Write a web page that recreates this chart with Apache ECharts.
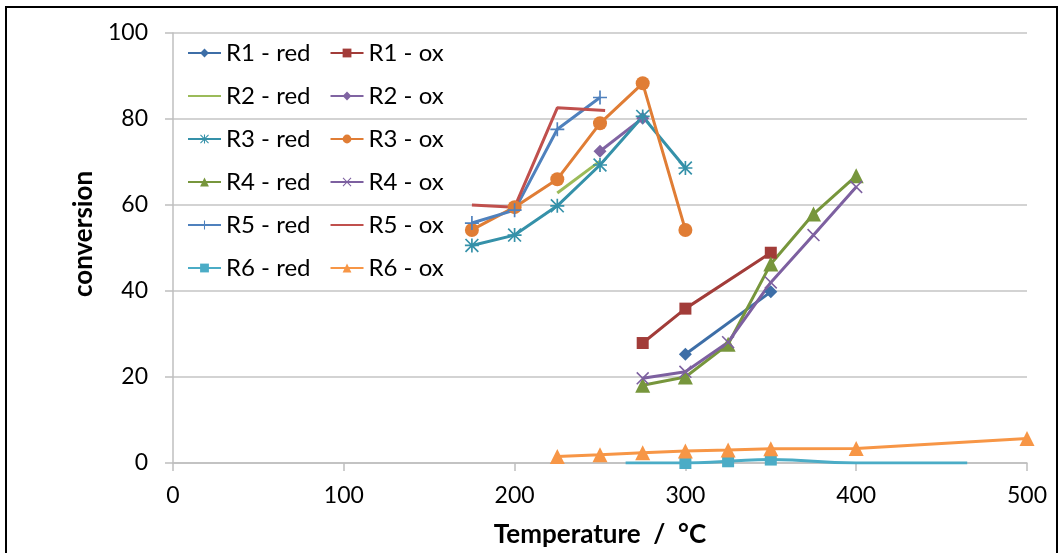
<!DOCTYPE html>
<html>
<head>
<meta charset="utf-8">
<script src="https://cdn.jsdelivr.net/npm/echarts@6/dist/echarts.min.js"></script>
<style>
  html, body { margin: 0; padding: 0; background: #fff; }
  #chart { width: 1061px; height: 553px; }
</style>
</head>
<body>
<div id="chart"></div>
<script>
// [temperature, conversion]
const r1Red = [[300, 25.3], [350, 39.8]];
const r1Ox = [[275, 27.9], [300, 35.9], [350, 48.9]];
const r2Red = [[225, 62.8], [250, 70.2]];
const r2Ox = [[250, 72.5], [275, 80.2]];
const r3Red = [[175, 50.6], [200, 53.0], [225, 59.8], [250, 69.3], [275, 80.6], [300, 68.6]];
const r3Ox = [[175, 54.2], [200, 59.5], [225, 66.0], [250, 79.0], [275, 88.3], [300, 54.2]];
const r4Red = [[275, 18.1], [300, 20.0], [325, 27.6], [350, 46.3], [375, 57.9], [400, 66.8]];
const r4Ox = [[275, 19.7], [300, 21.2], [325, 28.1], [350, 42.0], [375, 53.0], [400, 64.2]];
const r5Red = [[175, 55.8], [200, 58.8], [225, 77.6], [250, 85.0]];
const r5Ox = [[175, 60.0], [200, 59.5], [225, 82.6], [253, 82.0]];
const r6Red = [[265, 0], [300, 0], [325, 0.4], [350, 0.8], [400, 0], [465, 0]];
const r6RedMarked = [false, true, true, true, false, false];
const r6Ox = [[225, 1.5], [250, 1.9], [275, 2.4], [300, 2.8], [325, 3.0], [350, 3.3], [400, 3.4], [500, 5.7]];

const FONT = 'Lato';

// stroke-like markers as filled paths
const plusPath = 'path://M-1.2,-10L1.2,-10L1.2,10L-1.2,10ZM-10,-1.2L10,-1.2L10,1.2L-10,1.2Z';
const crossPath = 'path://M-10,-8.3L-8.3,-10L10,8.3L8.3,10ZM8.3,-10L10,-8.3L-8.3,10L-10,8.3Z';
const starPath = plusPath + 'M-10,-8.3L-8.3,-10L10,8.3L8.3,10ZM8.3,-10L10,-8.3L-8.3,10L-10,8.3Z';

function mk(name, data, color, symbol, size, extra) {
  const noMarker = symbol === 'none';
  return Object.assign({
    name: name,
    type: 'line',
    data: data,
    symbol: noMarker ? 'circle' : symbol,
    symbolSize: size,
    showSymbol: !noMarker,
    lineStyle: { color: color, width: 3 },
    itemStyle: { color: color, opacity: noMarker ? 0 : 1 },
    emphasis: { disabled: true }
  }, extra || {});
}

const series = [
  mk('R1 - red', r1Red, '#3d6ea7', 'diamond', 13),
  mk('R1 - ox', r1Ox, '#a23c39', 'rect', 12),
  mk('R2 - red', r2Red, '#9bbb59', 'none', 0),
  mk('R2 - ox', r2Ox, '#8064a2', 'diamond', 13),
  mk('R3 - red', r3Red, '#3591a9', starPath, 14),
  mk('R3 - ox', r3Ox, '#e07d35', 'circle', 14),
  mk('R4 - red', r4Red, '#77963c', 'triangle', 15),
  mk('R4 - ox', r4Ox, '#7d60a0', crossPath, 13),
  mk('R5 - red', r5Red, '#4f81bd', plusPath, 14),
  mk('R5 - ox', r5Ox, '#c0504d', 'none', 0),
  mk('R6 - red', r6Red.map((p, i) => ({ value: p, symbolSize: r6RedMarked[i] ? 12 : 0 })), '#4bacc6', 'rect', 12, { smooth: true }),
  mk('R6 - ox', r6Ox, '#f79646', 'triangle', 15)
];

const legendOrder = series.filter(s => s.name.endsWith('red')).map(s => s.name)
  .concat(series.filter(s => s.name.endsWith('ox')).map(s => s.name));

const chart = echarts.init(document.getElementById('chart'));
chart.setOption({
  animation: false,
  backgroundColor: '#fff',
  grid: { left: 173, right: 34, top: 33, bottom: 90 },
  legend: {
    orient: 'vertical',
    left: 187,
    top: 41,
    height: 250,
    padding: 0,
    itemGap: 19,
    itemWidth: 33,
    itemHeight: 11,
    data: legendOrder,
    textStyle: { fontFamily: FONT, fontSize: 24, color: '#000', width: 89 }
  },
  xAxis: {
    type: 'value',
    min: 0, max: 500, interval: 100,
    name: 'Temperature  /  °C',
    nameLocation: 'middle',
    nameGap: 59,
    nameTextStyle: { fontFamily: FONT, fontSize: 26, fontWeight: 'bold', color: '#000' },
    axisLine: { lineStyle: { color: '#bfbfbf', width: 1.5 } },
    axisTick: { length: 8, lineStyle: { color: '#bfbfbf', width: 1.5 } },
    axisLabel: { fontFamily: FONT, fontSize: 23, color: '#000', margin: 21 },
    splitLine: { show: false }
  },
  yAxis: {
    type: 'value',
    min: 0, max: 100, interval: 20,
    name: 'conversion',
    nameLocation: 'middle',
    nameGap: 75,
    nameRotate: 90,
    nameTextStyle: { fontFamily: FONT, fontSize: 26, fontWeight: 'bold', color: '#000', padding: [0, 0, 0, 28] },
    axisLine: { show: true, lineStyle: { color: '#bfbfbf', width: 1.5 } },
    axisTick: { show: true, length: 8, lineStyle: { color: '#bfbfbf', width: 1.5 } },
    axisLabel: { fontFamily: FONT, fontSize: 23, color: '#000', margin: 25 },
    splitLine: { lineStyle: { color: '#c4c4c4', width: 1.5 } }
  },
  graphic: [{
    type: 'rect',
    shape: { x: 6, y: 7, width: 1051, height: 560 },
    style: { fill: 'none', stroke: '#000', lineWidth: 2 },
    silent: true
  }],
  series: series
});
</script>
</body>
</html>
